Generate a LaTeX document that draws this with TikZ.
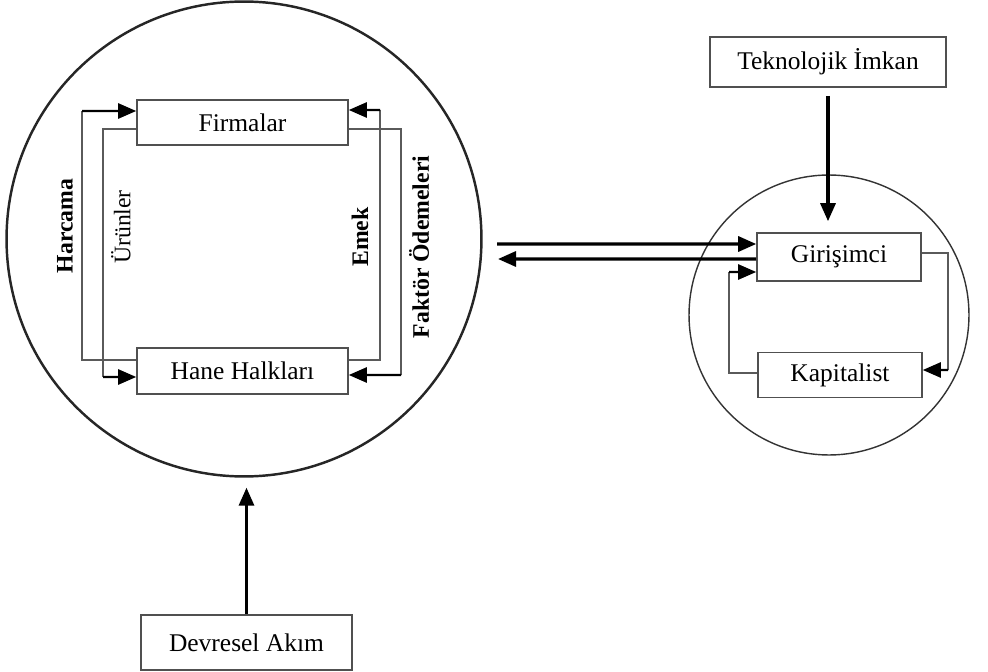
\documentclass[tikz,border=0pt]{standalone}
\usepackage{fontspec}
\setmainfont{Liberation Serif}
\usetikzlibrary{arrows.meta, positioning, calc}
\definecolor{kutugri}{HTML}{505050}
\definecolor{hatgri}{HTML}{5A5A5A}

\begin{document}
\begin{tikzpicture}[
  x=0.02cm, y=-0.02cm,
  kutu/.style={
    rectangle,
    draw=kutugri,
    line width=0.9pt,
    fill=white,
    minimum width=#1,
    minimum height=0.9cm,
    inner sep=0pt,
    font=\fontsize{14.5}{17}\selectfont
  },
  etiket/.style={
    rotate=90,
    inner sep=0pt,
    font=\fontsize{13.5}{16}\selectfont\bfseries
  },
  ince/.style={draw=hatgri, line width=0.8pt},
  ok/.style={draw=black, line width=1.4pt, -{Triangle[length=0.36cm,width=0.3cm]}},
  kalin/.style={draw=black, line width=1.8pt, -{Triangle[length=0.36cm,width=0.3cm]}}
]
  \useasboundingbox (0,0) rectangle (988,672);

  % daireler
  \node[draw=black!85, circle, line width=1.4pt, minimum size=9.5cm] (ekonomi) at (244,239) {};
  \node[draw=black!80, circle, line width=0.8pt, minimum size=5.6cm] (girisim) at (829,315) {};

  % kutular
  \node[kutu=4.22cm] (firmalar) at (242.5,122.5) {Firmalar};
  \node[kutu=4.22cm, minimum height=0.92cm] (hane) at (242.5,371) {Hane Halkları};
  \node[kutu=4.72cm, minimum height=1cm] (teknoloji) at (828,62) {Teknolojik İmkan};
  \node[kutu=3.28cm, minimum height=0.96cm] (girisimci) at (839,257) {Girişimci};
  \node[kutu=3.28cm] (kapitalist) at (840,375) {Kapitalist};
  \node[kutu=4.22cm, minimum height=1.1cm] (devresel) at (246.5,642.5) {Devresel Akım};

  % etiketler
  \node[etiket] (harcama) at (65,226) {Harcama};
  \node[etiket, font=\fontsize{13.5}{16}\selectfont] (urunler) at (121,227) {Ürünler};
  \node[etiket] (emek) at (360,237) {Emek};
  \node[etiket] (faktor) at (419,247) {Faktör Ödemeleri};

  % dongu koseleri
  \coordinate (harcamak) at (82,111);
  \coordinate (urunlerk) at (103,377);
  \coordinate (emekk) at (380,110);
  \coordinate (faktork) at (401,375);
  \coordinate (girisk) at (948,370);
  \coordinate (kapk) at (729,272);
  \coordinate (solust) at (497,244);
  \coordinate (solalt) at (498,259);

  % ic akimlar
  \draw[ince] ([yshift=0.22cm]hane.west) -| (harcamak);
  \draw[ok] (harcamak) -- ([yshift=0.23cm]firmalar.west);
  \draw[ince] ([yshift=-0.13cm]firmalar.west) -| (urunlerk);
  \draw[ok] (urunlerk) -- ([yshift=-0.12cm]hane.west);
  \draw[ince] ([yshift=0.22cm]hane.east) -| (emekk);
  \draw[ok] (emekk) -- ([yshift=0.25cm]firmalar.east);
  \draw[ince] ([yshift=-0.13cm]firmalar.east) -| (faktork);
  \draw[ok] (faktork) -- ([yshift=-0.08cm]hane.east);

  % girisimci - kapitalist
  \draw[ince] ([yshift=0.08cm]girisimci.east) -| (girisk);
  \draw[ok] (girisk) -- ([yshift=0.1cm]kapitalist.east);
  \draw[ince] ([yshift=0.04cm]kapitalist.west) -| (kapk);
  \draw[ok] (kapk) -- ([yshift=-0.3cm]girisimci.west);

  % baglantilar
  \draw[kalin] (solust) -- ([yshift=0.26cm]girisimci.west);
  \draw[kalin] ([yshift=-0.04cm]girisimci.west) -- (solalt);
  \draw[kalin, shorten <=0.16cm, shorten >=0.22cm] (teknoloji.south) -- (teknoloji.south |- girisimci.north);
  \draw[kalin, shorten >=0.2cm] (devresel.north) -- (devresel.north |- ekonomi.south);
\end{tikzpicture}
\end{document}
